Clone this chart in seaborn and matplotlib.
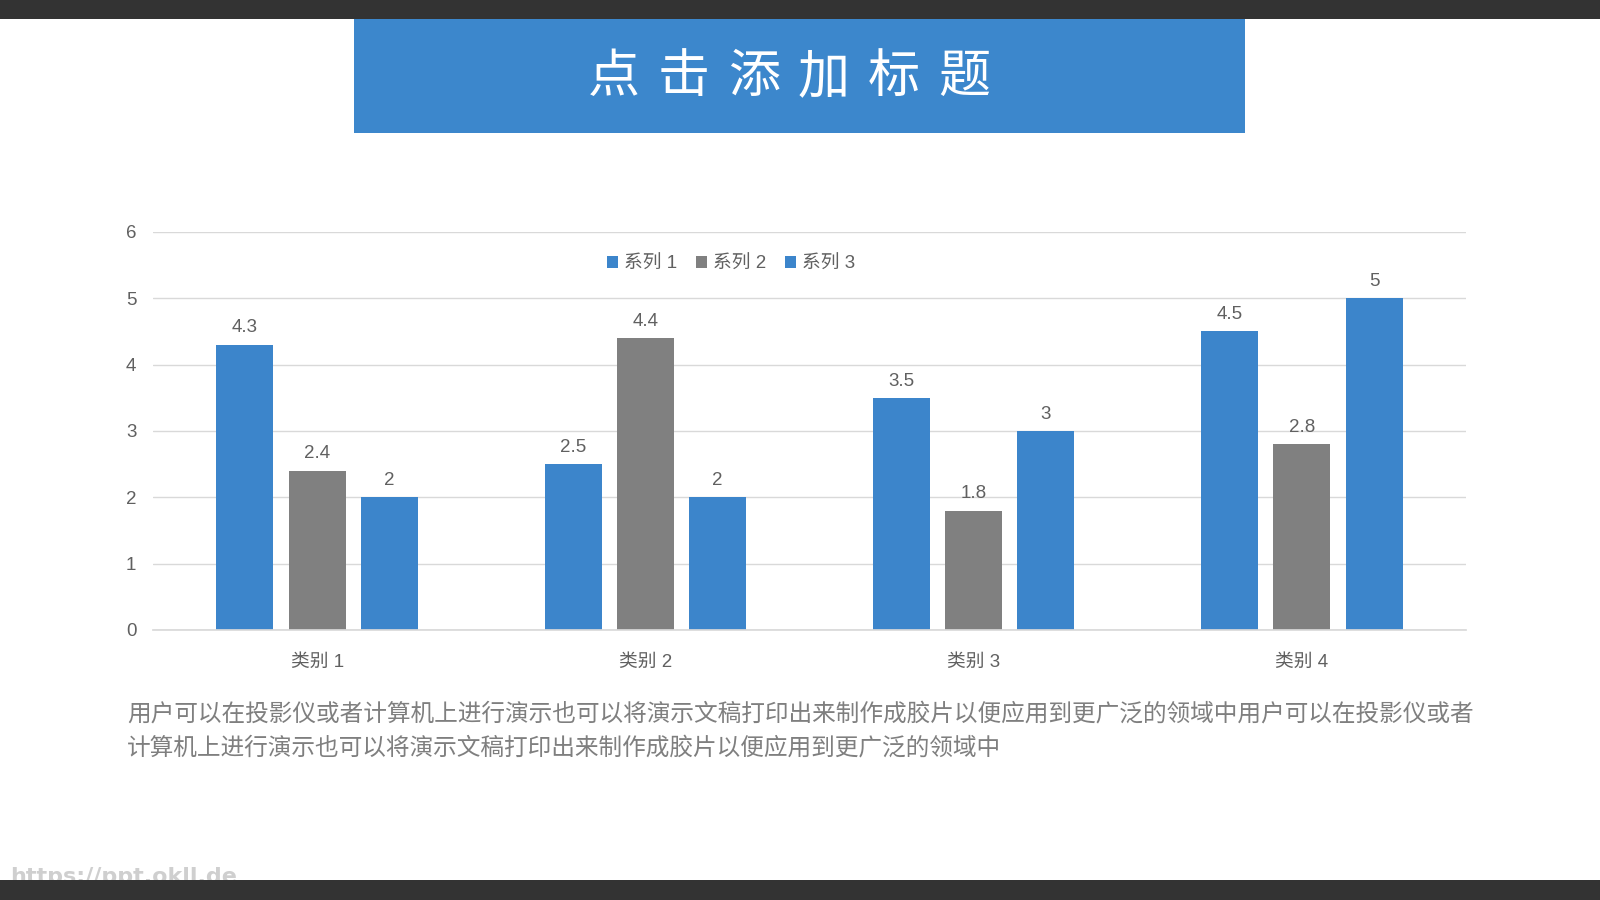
import matplotlib
matplotlib.use("Agg")
import matplotlib.pyplot as plt
import seaborn as sns
import pandas as pd
from matplotlib.patches import Rectangle

categories = ["类别 1", "类别 2", "类别 3", "类别 4"]
series_names = ["系列 1", "系列 2", "系列 3"]
series1 = [4.3, 2.5, 3.5, 4.5]
series2 = [2.4, 4.4, 1.8, 2.8]
series3 = [2, 2, 3, 5]
yticks = [0, 1, 2, 3, 4, 5, 6]
title = "点击添加标题"
body = ("用户可以在投影仪或者计算机上进行演示也可以将演示文稿打印出来制作成胶片以便应用到更广泛的领域中用户可以在投影仪或者\n"
        "计算机上进行演示也可以将演示文稿打印出来制作成胶片以便应用到更广泛的领域中")
watermark = "https://ppt.okll.de"

BLUE = "#3c85cb"
GRAY = "#808080"
TXT = "#606060"

sns.set_theme(style="white")
plt.rcParams['font.family'] = ['Liberation Sans', 'Noto Sans CJK SC', 'DejaVu Sans']

rows = []
for name, vals in zip(series_names, [series1, series2, series3]):
    for c, v in zip(categories, vals):
        rows.append({"cat": c, "series": name, "value": v})
df = pd.DataFrame(rows)

fig = plt.figure(figsize=(16, 9), dpi=100)
fig.patch.set_facecolor("white")
ax = fig.add_axes([153/1600, 1-630/900, (1466-153)/1600, (630-232)/900])

palette = {series_names[0]: BLUE, series_names[1]: GRAY, series_names[2]: BLUE}
sns.barplot(data=df, x="cat", y="value", hue="series", palette=palette,
            width=0.66, gap=0.21, ax=ax, saturation=1, edgecolor="none")

for cont in ax.containers:
    ax.bar_label(cont, fmt="%g", padding=6, fontsize=13.5, color=TXT)

ax.set_xlim(-0.5, 3.5)
ax.set_ylim(0, 6)
ax.set_yticks(yticks)
ax.set_xlabel("")
ax.set_ylabel("")
ax.grid(axis="y", color="#d9d9d9", linewidth=1)
ax.set_axisbelow(True)
for s in ["top", "right", "left"]:
    ax.spines[s].set_visible(False)
ax.spines["bottom"].set_color("#d9d9d9")
ax.tick_params(axis="both", length=0, labelsize=13.5, labelcolor=TXT)
ax.tick_params(axis="y", pad=12)
ax.tick_params(axis="x", pad=17)

handles, labels = ax.get_legend_handles_labels()
ax.legend(handles, labels, loc="center", bbox_to_anchor=((731-153)/1313, (630-264)/398),
          ncol=3, frameon=False, fontsize=13.5, handlelength=0.6, handleheight=0.6,
          handletextpad=0.3, columnspacing=1.0, labelcolor=TXT)

# title banner
fig.patches.append(Rectangle((354/1600, 1-133/900), (1245-354)/1600, (133-19)/900,
                             transform=fig.transFigure, facecolor="#3c87cc", edgecolor="none", zorder=0))
cx = 789/1600
step = 70/1600
for i, ch in enumerate(title):
    fig.text(cx + (i - 2.5)*step, 1-77/900, ch, ha="center", va="center",
             fontsize=37.5, color="white", family=['Noto Sans CJK SC'])

fig.text(127/1600, 1-714/900, body.split("\n")[0], ha="left", va="center",
         fontsize=17.05, color="#7f7f7f", family=['Noto Sans CJK SC'])
fig.text(127/1600, 1-748/900, body.split("\n")[1], ha="left", va="center",
         fontsize=17.05, color="#7f7f7f", family=['Noto Sans CJK SC'])

fig.text(10/1600, 1-877/900, watermark, ha="left", va="center", fontsize=16,
         color="#cfcfcf", fontweight="bold", family=['DejaVu Sans'])

# dark bars
fig.patches.append(Rectangle((0, 1-19/900), 1, 19/900, transform=fig.transFigure,
                             facecolor="#333333", edgecolor="none", zorder=5))
fig.patches.append(Rectangle((0, 0), 1, 20/900, transform=fig.transFigure,
                             facecolor="#333333", edgecolor="none", zorder=5))

fig.savefig("out.png", dpi=100, facecolor="white")
